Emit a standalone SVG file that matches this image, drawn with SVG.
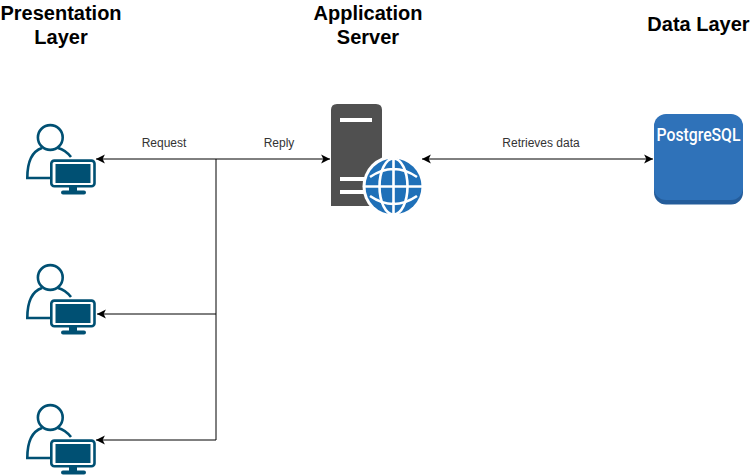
<svg xmlns="http://www.w3.org/2000/svg" width="751" height="475" viewBox="0 0 751 475">
<style>
.h{font:bold 20px "Liberation Sans",Arial,sans-serif;fill:#000;text-anchor:middle}
.l{font:12px "Liberation Sans",Arial,sans-serif;fill:#333;text-anchor:middle}
.c{fill:none;stroke:#000;stroke-width:1}
.u{fill:none;stroke:#005073;stroke-width:2.6}
</style>
<defs>
<marker id="a" markerUnits="userSpaceOnUse" markerWidth="10" markerHeight="10" refX="8" refY="4" orient="auto-start-reverse" viewBox="0 0 9 8"><path d="M0 0L8 4L0 8L2 4Z" fill="#000"/></marker>
<g id="user">
<circle class="u" cx="50.300" cy="137.500" r="12.400"/>
<path class="u" d="M71 157C67 152 62 149 58 148M42 148C33 151 27.300 160 27.300 178H52"/>
<rect x="51.300" y="160.600" width="43.200" height="25.600" rx="3" fill="#fff" stroke="#005073" stroke-width="2.600"/>
<rect x="55.500" y="164" width="35" height="19" fill="#005073"/>
<rect x="69" y="187" width="8" height="5" fill="#005073"/>
<rect x="61" y="190.500" width="25" height="4" rx="2" fill="#005073"/>
</g>
</defs>
<g id="connectors">
<path class="c" d="M216 159H96" marker-end="url(#a)"/>
<path class="c" d="M216 159H330" marker-end="url(#a)"/>
<path class="c" d="M216 159V440"/>
<path class="c" d="M216 314H97" marker-end="url(#a)"/>
<path class="c" d="M216 440H96" marker-end="url(#a)"/>
<path class="c" d="M422 159H653" marker-start="url(#a)" marker-end="url(#a)"/>
</g>
<text class="l" x="164" y="147">Request</text>
<text class="l" x="279" y="147">Reply</text>
<text class="l" x="541" y="147">Retrieves data</text>
<g id="presentation-layer"><text class="h"><tspan x="61" y="20">Presentation</tspan><tspan x="61" y="44">Layer</tspan></text></g>
<g id="application-server-title"><text class="h"><tspan x="368" y="20">Application</tspan><tspan x="368" y="44">Server</tspan></text></g>
<g id="data-layer"><text class="h" x="698.500" y="31">Data Layer</text></g>
<g id="user1"><use href="#user"/></g>
<g id="user2"><use href="#user" y="140"/></g>
<g id="user3"><use href="#user" y="280"/></g>
<g id="server">
<path d="M331 206V110Q331 104 337 104H376Q382 104 382 110V206Z" fill="#505050"/>
<rect x="340" y="118" width="32" height="4" fill="#fff"/>
<rect x="340" y="177" width="32" height="4" fill="#fff"/>
<rect x="340" y="190" width="32" height="4" fill="#fff"/>
<circle cx="393.500" cy="186.500" r="31" fill="#fff"/>
<circle cx="393.500" cy="186.500" r="28" fill="#1f70b8"/>
<g fill="none" stroke="#fff" stroke-width="2.600">
<ellipse cx="393.500" cy="186.500" rx="14" ry="28"/>
<path d="M393.500 158V215M365 186.500H422M370 177Q393.500 161 417 177M370 196Q393.500 212 417 196"/>
</g>
</g>
<g id="postgresql">
<rect x="654" y="116" width="89" height="88.500" rx="12" fill="#245c9a"/>
<rect x="654" y="114" width="89" height="86" rx="12" fill="#2f72b9"/>
<text x="698.500" y="141" font-family="Roboto,sans-serif" font-size="18" font-weight="500" fill="#fff" text-anchor="middle" textLength="84" lengthAdjust="spacingAndGlyphs">PostgreSQL</text>
</g>
</svg>
